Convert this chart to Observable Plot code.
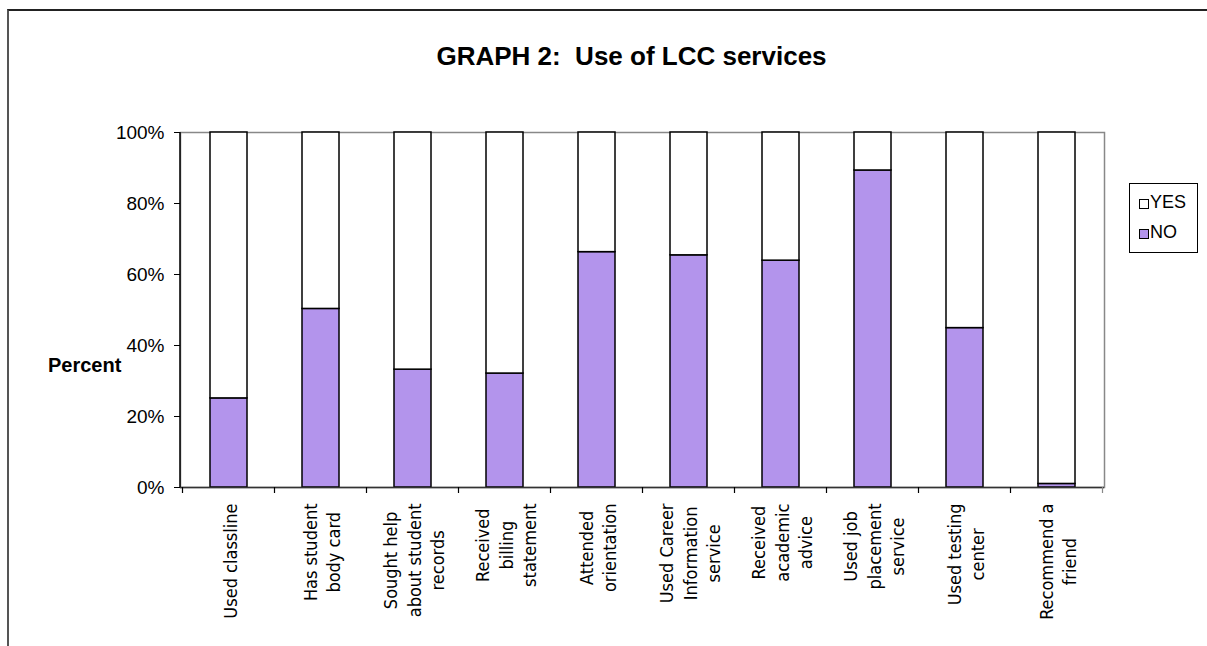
<!DOCTYPE html>
<html>
<head>
<meta charset="utf-8">
<script src="https://cdn.jsdelivr.net/npm/d3@7"></script>
<script src="https://cdn.jsdelivr.net/npm/@observablehq/plot@0.6"></script>
<style>
  body { margin: 0; background: #fff; }
  #chart { position: relative; width: 1207px; height: 646px; overflow: hidden; font-family: "Liberation Sans", Arial, sans-serif; color: #000; }
  #border { position: absolute; left: 7px; top: 9px; width: 1400px; height: 800px; border-top: 2px solid #222; border-left: 2px solid #555; }
  #title { position: absolute; left: 0; width: 1263px; top: 43px; text-align: center; font-weight: bold; font-size: 26px; line-height: 26px; white-space: pre; }
  #ylabel { position: absolute; left: 48px; top: 355px; font-weight: bold; font-size: 20px; line-height: 20px; }
  #plot { position: absolute; left: 0; top: 0; }
  #legend { position: absolute; left: 1129px; top: 183px; width: 69px; height: 70px; box-sizing: border-box; border: 1px solid #000; background: #fff; }
  .swatch { position: absolute; width: 10px; height: 10px; box-sizing: border-box; border: 1px solid #000; }
  .lgtext { position: absolute; font-size: 18px; line-height: 18px; }
</style>
</head>
<body>
<div id="chart">
  <div id="border"></div>
  <div id="title">GRAPH 2:  Use of LCC services</div>
  <div id="plot"></div>
  <div id="ylabel">Percent</div>
  <div id="legend"></div>
</div>
<script>
// Services surveyed (line breaks follow the wrapped axis labels)
const categories = [
  "Used classline",
  "Has student\nbody card",
  "Sought help\nabout student\nrecords",
  "Received\nbilling\nstatement",
  "Attended\norientation",
  "Used Career\nInformation\nservice",
  "Received\nacademic\nadvice",
  "Used job\nplacement\nservice",
  "Used testing\ncenter",
  "Recommend a\nfriend"
];

// Share of respondents, in percent
const noValues  = [25.1, 50.3, 33.2, 32.1, 66.3, 65.4, 63.9, 89.3, 44.9, 1.0];
const yesValues = [74.9, 49.7, 66.8, 67.9, 33.7, 34.6, 36.1, 10.7, 55.1, 99.0];

const seriesNames = ["NO", "YES"];
const seriesColors = ["#b394ec", "#ffffff"];

const yTicks = [0, 20, 40, 60, 80, 100];

// Long table: NO rows first so they sit at the bottom of each stack
const rows = [
  ...categories.map((c, i) => ({category: c, series: "NO", value: noValues[i]})),
  ...categories.map((c, i) => ({category: c, series: "YES", value: yesValues[i]}))
];

// Left axis line plus tick marks between the categories on the bottom axis
function categoryFrame(index, scales, values, dims) {
  const {width, height, marginLeft, marginRight, marginTop, marginBottom} = dims;
  const x = scales.x;
  const left = marginLeft, right = width - marginRight, bottom = height - marginBottom;
  let bounds;
  if (x && typeof x.step === "function") {
    const st = x.step(), bw = x.bandwidth();
    bounds = categories.map(c => x(c) + bw / 2 - st / 2);
    bounds.push(bounds[bounds.length - 1] + st);
  } else {
    const st = (right - left) / categories.length;
    bounds = d3.range(categories.length + 1).map(k => left + k * st);
  }
  const g = d3.create("svg:g").attr("fill", "none");
  g.append("line")
    .attr("x1", left).attr("x2", left)
    .attr("y1", marginTop).attr("y2", bottom)
    .attr("stroke", "#000").attr("stroke-width", 1.5);
  bounds.forEach((bx, k) => {
    g.append("line")
      .attr("x1", bx).attr("x2", bx)
      .attr("y1", bottom).attr("y2", bottom + 6)
      .attr("stroke", k === categories.length ? "#888" : "#000")
      .attr("stroke-width", 1.2);
  });
  return g.node();
}

const labelFont = "'DejaVu Sans Condensed', 'Liberation Sans Narrow', 'Liberation Sans', sans-serif";

const chart = Plot.plot({
  width: 1207,
  height: 646,
  marginTop: 132,
  marginBottom: 159,
  marginLeft: 180,
  marginRight: 103,
  style: {
    fontFamily: "'Liberation Sans', Arial, sans-serif",
    fontSize: "19px",
    color: "#000",
    background: "transparent",
    overflow: "visible"
  },
  x: {domain: categories, paddingInner: 0.6, paddingOuter: 0.3, axis: null},
  y: {domain: [0, 100]},
  color: {domain: seriesNames, range: seriesColors},
  marks: [
    Plot.frame({stroke: "#888", strokeWidth: 1.5}),
    Plot.barY(rows, {
      x: "category",
      y: "value",
      fill: "series",
      stroke: "#000",
      strokeWidth: 1.5
    }),
    Plot.ruleY([0], {stroke: "#333", strokeWidth: 1.5}),
    categoryFrame,
    Plot.axisY({
      ticks: yTicks,
      tickFormat: d => d + "%",
      tickSize: 6,
      tickPadding: 10,
      fontSize: 19,
      label: null,
      stroke: "#000"
    }),
    Plot.text(categories, {
      x: d => d,
      text: d => d,
      frameAnchor: "bottom",
      dy: 16,
      rotate: -90,
      textAnchor: "end",
      lineAnchor: "middle",
      lineHeight: 1.3,
      fontSize: 18,
      fontFamily: labelFont,
      fill: "#000"
    })
  ]
});

document.getElementById("plot").appendChild(chart);

// Center the wrapped lines of each rotated label on one another,
// keeping the longest line flush against the axis
chart.querySelectorAll("text").forEach(t => {
  const tr = t.getAttribute("transform") || "";
  if (!/rotate\(\s*-90/.test(tr)) return;
  const spans = t.querySelectorAll("tspan");
  const lens = spans.length ? Array.from(spans, s => s.getComputedTextLength()) : [t.getComputedTextLength()];
  const longest = Math.max(...lens);
  t.setAttribute("text-anchor", "middle");
  t.style.textAnchor = "middle";
  t.setAttribute("transform", tr + ` translate(${-longest / 2},0)`);
});

// Legend: YES above NO
const chartBox = document.getElementById("chart");
[["YES", 1], ["NO", 0]].forEach(([name, si], k) => {
  const sw = document.createElement("div");
  sw.className = "swatch";
  sw.style.left = "1139px";
  sw.style.top = (199 + k * 30) + "px";
  sw.style.background = seriesColors[si];
  chartBox.appendChild(sw);
  const tx = document.createElement("div");
  tx.className = "lgtext";
  tx.style.left = "1150px";
  tx.style.top = (193 + k * 30) + "px";
  tx.textContent = name;
  chartBox.appendChild(tx);
});
</script>
</body>
</html>
